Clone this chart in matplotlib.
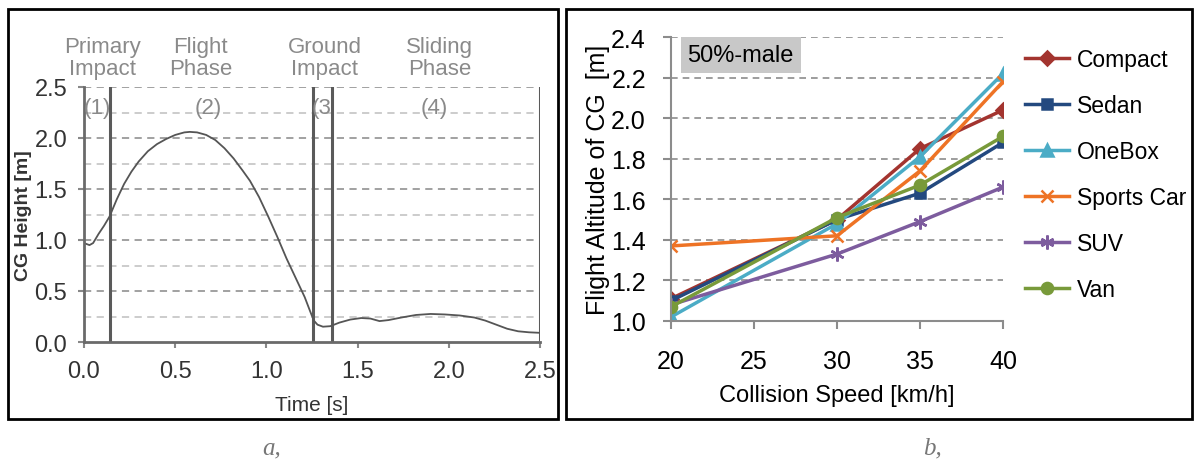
import numpy as np
import matplotlib
matplotlib.use("Agg")
import matplotlib.pyplot as plt
from matplotlib.patches import Rectangle

plt.rcParams['font.family'] = ['Liberation Sans', 'DejaVu Sans']

# (a) CG height vs time
time_s = [0.0, 0.03, 0.05, 0.08, 0.11, 0.14, 0.18, 0.22, 0.26, 0.30, 0.35, 0.40, 0.45,
          0.50, 0.55, 0.58, 0.62, 0.67, 0.72, 0.77, 0.82, 0.87, 0.91, 0.96, 1.01, 1.06,
          1.11, 1.16, 1.21, 1.24, 1.26, 1.28, 1.31, 1.35, 1.40, 1.46, 1.52, 1.57, 1.62,
          1.67, 1.74, 1.82, 1.90, 1.98, 2.06, 2.14, 2.20, 2.26, 2.32, 2.38, 2.44, 2.50]
cg_height = [0.97, 0.95, 0.97, 1.06, 1.14, 1.23, 1.40, 1.55, 1.67, 1.77, 1.87, 1.94, 1.99,
             2.03, 2.055, 2.06, 2.055, 2.03, 1.98, 1.90, 1.80, 1.68, 1.58, 1.42, 1.23, 1.03,
             0.82, 0.63, 0.44, 0.30, 0.21, 0.17, 0.15, 0.155, 0.19, 0.22, 0.235, 0.23, 0.205,
             0.215, 0.24, 0.265, 0.275, 0.27, 0.26, 0.24, 0.21, 0.17, 0.13, 0.105, 0.095, 0.09]
phase_bounds = [0.143, 1.254, 1.362, 2.5]
phase_names = ['Primary\nImpact', 'Flight\nPhase', 'Ground\nImpact', 'Sliding\nPhase']
phase_name_x = [0.10, 0.64, 1.32, 1.95]
phase_nums = ['(1)', '(2)', '(3', '(4)']
phase_num_x = [0.075, 0.68, 1.305, 1.92]

# (b) flight altitude vs collision speed
speed = [20, 30, 35, 40]
compact = [1.11, 1.50, 1.85, 2.04]
sedan = [1.10, 1.50, 1.63, 1.88]
onebox = [1.02, 1.48, 1.81, 2.22]
sports_car = [1.37, 1.42, 1.74, 2.18]
suv = [1.08, 1.33, 1.49, 1.66]
van = [1.07, 1.51, 1.67, 1.91]

fig = plt.figure(figsize=(11.94, 4.6), dpi=100)

# panel frames
fig.patches.append(Rectangle((8/1194, 1-420/460), 550/1194, 410/460, transform=fig.transFigure,
                             fill=False, lw=2, ec='black'))
fig.patches.append(Rectangle((566/1194, 1-420/460), 626/1194, 410/460, transform=fig.transFigure,
                             fill=False, lw=2, ec='black'))

# ---- left ----
ax1 = fig.add_axes([84/1194, 1-343/460, 456/1194, 255/460])
ax1.set_xlim(0, 2.5)
ax1.set_ylim(0, 2.5)
for y in np.arange(0.25, 2.5, 0.25):
    major = abs(y * 2 - round(y * 2)) < 1e-6
    ax1.axhline(y, color='#9a9a9a' if major else '#c8c8c8', ls=(0, (4, 3)), lw=1.3, zorder=0)
ax1.axhline(2.5, color='#9a9a9a', ls=(0, (4, 3)), lw=1.3, zorder=0)
for xb in phase_bounds:
    ax1.axvline(xb, color='#5a5a5a', lw=2.2)
ax1.plot(time_s, cg_height, color='#555555', lw=1.3)
for sp in ['top', 'right']:
    ax1.spines[sp].set_visible(False)
for sp in ['left', 'bottom']:
    ax1.spines[sp].set_color('#6a6a6a')
    ax1.spines[sp].set_linewidth(2)
ax1.set_xticks(np.arange(0, 2.51, 0.5))
ax1.set_yticks(np.arange(0, 2.51, 0.5))
ax1.tick_params(colors='#888888', labelcolor='#333333', labelsize=17, length=4, width=1.5)
ax1.tick_params(axis='y', pad=8)
ax1.tick_params(axis='x', pad=9)
ax1.set_xticklabels(['%.1f' % v for v in np.arange(0, 2.51, 0.5)])
ax1.set_yticklabels(['%.1f' % v for v in np.arange(0, 2.51, 0.5)])
ax1.set_xlabel('Time [s]', fontsize=15, color='#333333', labelpad=9)
ax1.set_ylabel('CG Height [m]', fontsize=14, color='#333333', fontweight='bold')
ax1.yaxis.set_label_coords(-0.114, 0.5)
for name, xp in zip(phase_names, phase_name_x):
    ax1.text(xp, 2.58, name, ha='center', va='bottom', fontsize=16, color='#8a8a8a',
             linespacing=1.05)
for num, xp in zip(phase_nums, phase_num_x):
    ax1.text(xp, 2.3, num, ha='center', va='center', fontsize=16, color='#8a8a8a')

# ---- right ----
ax2 = fig.add_axes([671/1194, 1-322/460, 332/1194, 284/460])
ax2.set_xlim(20, 40)
ax2.set_ylim(1.0, 2.4)
for y in np.arange(1.2, 2.41, 0.2):
    ax2.axhline(y, color='#8c8c8c', ls=(0, (4, 3)), lw=1.2, zorder=0)
series = [('Compact', compact, '#A3342F', 'D', 7),
          ('Sedan', sedan, '#23497F', 's', 7),
          ('OneBox', onebox, '#4BACC6', '^', 8),
          ('Sports Car', sports_car, '#EE7325', 'x', 9),
          ('SUV', suv, '#7D5C9E', (6, 2, 0), 10),
          ('Van', van, '#789A3A', 'o', 8)]
for name, vals, col, mk, ms in series:
    ax2.plot(speed, vals, color=col, lw=2.5, marker=mk, ms=ms, mew=1.8, label=name)
for sp in ['top', 'right']:
    ax2.spines[sp].set_visible(False)
for sp in ['left', 'bottom']:
    ax2.spines[sp].set_color('#8c8c8c')
    ax2.spines[sp].set_linewidth(1.5)
ax2.set_xticks([20, 25, 30, 35, 40])
ax2.set_yticks(np.arange(1.0, 2.41, 0.2))
ax2.set_yticklabels(['%.1f' % v for v in np.arange(1.0, 2.41, 0.2)])
ax2.tick_params(colors='#8c8c8c', labelcolor='black', labelsize=18, length=6, width=1.5)
ax2.tick_params(axis='y', pad=12)
ax2.tick_params(axis='x', pad=14)
ax2.set_xlabel('Collision Speed [km/h]', fontsize=17, labelpad=8)
ax2.set_ylabel('Flight Altitude of CG  [m]', fontsize=18)
ax2.yaxis.set_label_coords(-0.184, 0.5)
ax2.text(21.0, 2.31, '50%-male', fontsize=17, va='center', ha='left',
         bbox=dict(boxstyle='square,pad=0.3', fc='#c8c8c8', ec='none'))
ax2.legend(loc='upper left', bbox_to_anchor=(1016/1194, 1-40/460),
           bbox_transform=fig.transFigure, frameon=False, fontsize=16.5,
           handlelength=1.9, labelspacing=1.0, handletextpad=0.35, borderaxespad=0,
           borderpad=0.4)

fig.text(272/1194, 1-448/460, 'a,', fontsize=18, style='italic', color='#777777',
         ha='center', va='center', family='Liberation Serif')
fig.text(932/1194, 1-448/460, 'b,', fontsize=18, style='italic', color='#777777',
         ha='center', va='center', family='Liberation Serif')

fig.savefig('out.png', dpi=100)
